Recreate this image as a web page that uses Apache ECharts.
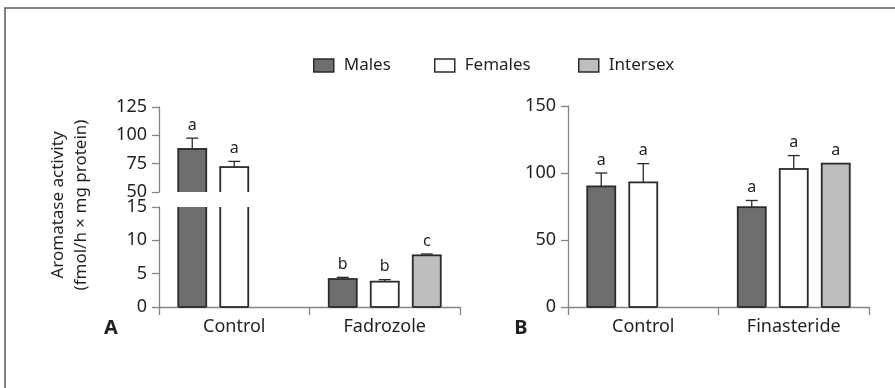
<!DOCTYPE html>
<html>
<head>
<meta charset="utf-8">
<script src="https://cdn.jsdelivr.net/npm/echarts@6/dist/echarts.min.js"></script>
<style>
  html, body { margin: 0; padding: 0; background: #fff; }
  #chart { width: 895px; height: 388px; }
</style>
</head>
<body>
<div id="chart"></div>
<script>
// Panel A: aromatase activity after fadrozole treatment
const groupsA = ['Control', 'Fadrozole'];
const malesA = [88, 4.2];
const malesAErr = [9.5, 0.25];
const femalesA = [72, 3.8];
const femalesAErr = [5, 0.3];
const intersexA = [null, 7.75];
const intersexAErr = [null, 0.2];
const lettersA = [['a', 'b'], ['a', 'b'], [null, 'c']];

// Panel B: aromatase activity after finasteride treatment
const groupsB = ['Control', 'Finasteride'];
const malesB = [90, 74.5];
const malesBErr = [10, 5];
const femalesB = [93, 103];
const femalesBErr = [14, 10];
const intersexB = [null, 107];
const intersexBErr = [null, 0];
const lettersB = [['a', 'a'], ['a', 'a'], [null, 'a']];

// Axis ranges (panel A uses a broken axis)
const ticksATop = { min: 50, max: 125, interval: 25 };
const ticksABottom = { min: 0, max: 15, interval: 5 };
const ticksB = { min: 0, max: 150, interval: 50 };

const seriesNames = ['Males', 'Females', 'Intersex'];
const fills = ['#6d6e70', '#ffffff', '#bcbec0'];
const FONT = '"Noto Sans", sans-serif';
const INK = '#231f20';
const AXIS = '#858585';
const EDGE = '#2b2b2b';
const BAR_W = 28;
const BAR_GAP = 0.5;

function yAxis(gridIndex, t) {
  return {
    type: 'value', gridIndex: gridIndex, min: t.min, max: t.max, interval: t.interval,
    axisLine: { show: true, lineStyle: { color: AXIS, width: 1.3 } },
    axisTick: { show: true, length: 7, lineStyle: { color: AXIS, width: 1.3 } },
    axisLabel: { color: INK, fontFamily: FONT, fontSize: 18, margin: 12 },
    splitLine: { show: false }
  };
}
function xAxis(gridIndex, cats, show) {
  return {
    type: 'category', gridIndex: gridIndex, data: cats, show: show,
    axisLine: { show: true, lineStyle: { color: AXIS, width: 1.3 } },
    axisTick: { show: true, length: 8, lineStyle: { color: AXIS, width: 1.3 } },
    axisLabel: { color: INK, fontFamily: FONT, fontSize: 18, margin: 11 }
  };
}

// Keep only values that fall inside an axis segment
function within(arr, t) {
  return arr.map(v => (v == null || v < t.min) ? '-' : v);
}

// Bar fills; outlines are drawn separately so that broken bars stay open at the break
function barSeries(k, values, axisIdx) {
  return {
    name: seriesNames[k], type: 'bar', xAxisIndex: axisIdx, yAxisIndex: axisIdx,
    data: values, barWidth: BAR_W, barGap: (BAR_GAP * 100) + '%', clip: true, silent: true,
    itemStyle: { color: fills[k], borderWidth: 0 }
  };
}

// Bar outlines, upper error bars and significance letters
function overlaySeries(k, values, errs, letters, axisIdx, t) {
  const data = values.map((v, i) => [i, v == null ? 0 : v]);
  return {
    type: 'custom', xAxisIndex: axisIdx, yAxisIndex: axisIdx, silent: true, z: 5,
    data: data,
    renderItem: function (params, api) {
      const i = params.dataIndex;
      const v = values[i];
      if (v == null || v < t.min) return null;
      const e = errs[i] || 0;
      const half = BAR_W / 2;
      const x = api.coord([i, 0])[0] + (k - 1) * BAR_W * (1 + BAR_GAP);
      const yTop = api.coord([i, Math.min(v, t.max)])[1];
      const yBot = api.coord([i, Math.max(0, t.min)])[1];
      const edge = { stroke: EDGE, lineWidth: 1.8 };
      const children = [
        { type: 'line', shape: { x1: x - half, y1: yTop, x2: x - half, y2: yBot }, style: edge },
        { type: 'line', shape: { x1: x + half, y1: yTop, x2: x + half, y2: yBot }, style: edge }
      ];
      if (t.min <= 0) {
        children.push({ type: 'line', shape: { x1: x - half, y1: yBot, x2: x + half, y2: yBot }, style: edge });
      }
      if (v <= t.max) {
        children.push({ type: 'line', shape: { x1: x - half - 0.9, y1: yTop, x2: x + half + 0.9, y2: yTop }, style: edge });
        const top = api.coord([i, v + e])[1];
        if (e > 0) {
          const st = { stroke: EDGE, lineWidth: 1.3 };
          children.push({ type: 'line', shape: { x1: x, y1: yTop, x2: x, y2: top }, style: st });
          children.push({ type: 'line', shape: { x1: x - 6, y1: top, x2: x + 6, y2: top }, style: st });
        }
        const letter = letters[i];
        if (letter) {
          children.push({
            type: 'text',
            style: { text: letter, x: x, y: top - 5, textAlign: 'center', textVerticalAlign: 'bottom',
                     fill: INK, fontFamily: FONT, fontSize: 16 }
          });
        }
      }
      return { type: 'group', children: children };
    }
  };
}

const series = [];
const aVals = [malesA, femalesA, intersexA];
const aErrs = [malesAErr, femalesAErr, intersexAErr];
const bVals = [malesB, femalesB, intersexB];
const bErrs = [malesBErr, femalesBErr, intersexBErr];
for (let k = 0; k < 3; k++) {
  series.push(barSeries(k, within(aVals[k], ticksATop), 0));
  series.push(barSeries(k, aVals[k].map(v => v == null ? '-' : v), 1));
  series.push(barSeries(k, bVals[k].map(v => v == null ? '-' : v), 2));
}
for (let k = 0; k < 3; k++) {
  series.push(overlaySeries(k, aVals[k], aErrs[k], lettersA[k], 0, ticksATop));
  series.push(overlaySeries(k, aVals[k], aErrs[k], lettersA[k], 1, ticksABottom));
  series.push(overlaySeries(k, bVals[k], bErrs[k], lettersB[k], 2, ticksB));
}

// One legend entry per group, placed side by side
const legendLefts = [313, 434, 578];
const legends = seriesNames.map((name, k) => ({
  data: [{ name: name, itemStyle: { color: fills[k], borderColor: EDGE, borderWidth: 1.5 } }],
  left: legendLefts[k], top: 57, itemWidth: 20, itemHeight: 13, itemGap: 0, padding: 0,
  icon: 'rect', selectedMode: false,
  textStyle: { color: INK, fontFamily: FONT, fontSize: 17, padding: [0, 0, 0, 5] }
}));

const chart = echarts.init(document.getElementById('chart'), null, { renderer: 'canvas' });
chart.setOption({
  animation: false,
  backgroundColor: '#ffffff',
  textStyle: { fontFamily: FONT },
  legend: legends,
  grid: [
    { left: 159, top: 107, width: 301, height: 85 },
    { left: 159, top: 207, width: 301, height: 100 },
    { left: 568, top: 106, width: 301, height: 201 }
  ],
  xAxis: [xAxis(0, groupsA, false), xAxis(1, groupsA, true), xAxis(2, groupsB, true)],
  yAxis: [yAxis(0, ticksATop), yAxis(1, ticksABottom), yAxis(2, ticksB)],
  series: series,
  graphic: [
    { type: 'rect', shape: { x: 5, y: 8, width: 1000, height: 500 }, silent: true,
      style: { fill: 'none', stroke: '#5a5a5a', lineWidth: 1.5 } },
    { type: 'text', x: 70, y: 205, rotation: Math.PI / 2, silent: true,
      style: { text: 'Aromatase activity\n(fmol/h × mg protein)', textAlign: 'center', textVerticalAlign: 'middle',
               fill: INK, fontFamily: FONT, fontSize: 17, lineHeight: 23 } },
    { type: 'text', x: 111, y: 328, silent: true,
      style: { text: 'A', textAlign: 'center', textVerticalAlign: 'middle', fill: INK,
               fontFamily: FONT, fontSize: 20, fontWeight: 'bold' } },
    { type: 'text', x: 521, y: 328, silent: true,
      style: { text: 'B', textAlign: 'center', textVerticalAlign: 'middle', fill: INK,
               fontFamily: FONT, fontSize: 20, fontWeight: 'bold' } }
  ]
});
</script>
</body>
</html>
